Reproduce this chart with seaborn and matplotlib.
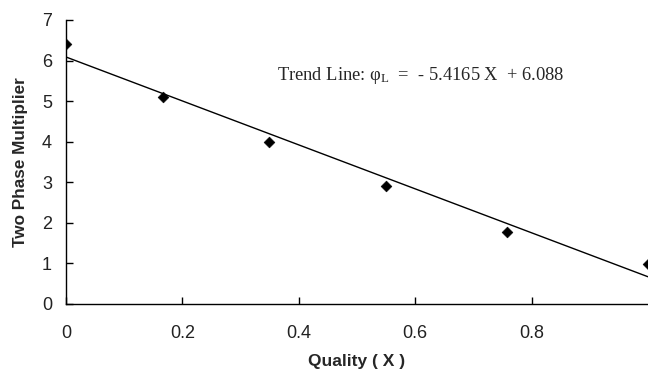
import matplotlib
matplotlib.use("Agg")
import matplotlib.pyplot as plt
import seaborn as sns
import numpy as np
import pandas as pd

quality = [0.0, 0.166, 0.348, 0.549, 0.758, 1.0]
multiplier = [6.40, 5.10, 3.99, 2.91, 1.77, 0.99]
slope = -5.4165
intercept = 6.088
x_ticks = [0, 0.2, 0.4, 0.6, 0.8]
x_tick_labels = ["0", "0.2", "0.4", "0.6", "0.8"]
y_ticks = [0, 1, 2, 3, 4, 5, 6, 7]

sns.set_theme(style="white")
plt.rcParams['font.family'] = ['Liberation Sans', 'DejaVu Sans']
plt.rcParams['mathtext.fontset'] = 'custom'
plt.rcParams['mathtext.rm'] = 'Liberation Serif'
plt.rcParams['mathtext.it'] = 'Liberation Serif:italic'

df = pd.DataFrame({"Quality": quality, "Multiplier": multiplier})
trend_x = np.array([0.0, 1.0])
trend = pd.DataFrame({"Quality": trend_x, "Multiplier": slope * trend_x + intercept})

fig = plt.figure(figsize=(6.48, 3.77), dpi=100)
ax = fig.add_axes([66/648, 1 - 304/377, (648 - 66)/648, (304 - 20)/377])

sns.lineplot(data=trend, x="Quality", y="Multiplier", ax=ax, color="black", linewidth=1.0)
sns.scatterplot(data=df, x="Quality", y="Multiplier", ax=ax, marker="D", s=30,
                color="black", edgecolor="black", zorder=3, clip_on=True)

ax.set_xlim(0, 1.0)
ax.set_ylim(0, 7)
ax.set_xticks(x_ticks)
ax.set_xticklabels(x_tick_labels)
ax.set_yticks(y_ticks)
ax.tick_params(axis="both", direction="in", length=5, width=1, color="black",
               labelsize=13, labelcolor="#222222", bottom=True, left=True)
ax.tick_params(axis="y", pad=10)
ax.tick_params(axis="x", pad=15)
for s in ["top", "right"]:
    ax.spines[s].set_visible(False)
for s in ["left", "bottom"]:
    ax.spines[s].set_color("black")
    ax.spines[s].set_linewidth(1.0)

ax.set_xlabel("Quality ( X )", fontsize=12.5, fontweight="bold", labelpad=9)
ax.set_ylabel("Two Phase Multiplier", fontsize=12.3, fontweight="bold", labelpad=10)

ax.text(0.363, 5.64, "Trend Line: $\\mathrm{φ_L}$  =  - 5.4165 X  + 6.088",
        fontsize=13.3, family="Liberation Serif", va="center", ha="left")

fig.savefig("out.png", dpi=100)
